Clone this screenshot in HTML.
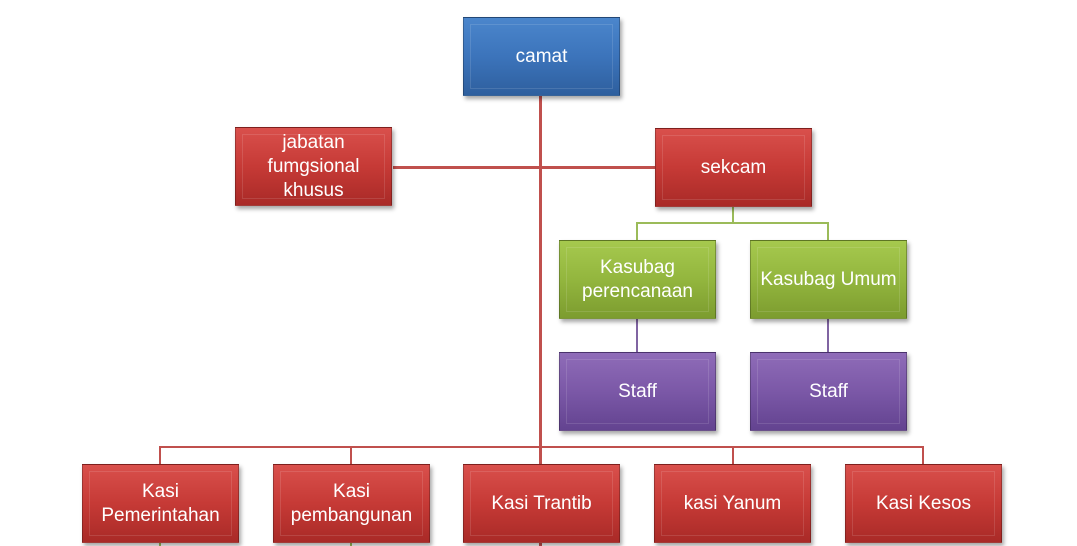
<!DOCTYPE html>
<html><head><style>
body{margin:0;width:1077px;height:546px;background:#fff;position:relative;overflow:hidden;font-family:"Liberation Sans",sans-serif}
.b{position:absolute;width:157px;height:79px;box-sizing:border-box;display:flex;align-items:center;justify-content:center;text-align:center;color:#fff;font-size:19px;line-height:24px;box-shadow:2px 3px 4px rgba(0,0,0,.35);border:1px solid rgba(0,0,0,.25)}
.b::before{content:"";position:absolute;left:6px;top:6px;right:6px;bottom:6px;border:1px solid rgba(255,255,255,.12)}
.r{background:linear-gradient(#d9504c,#c63a36 50%,#a92a27)}
.u{background:linear-gradient(#4b86cc,#3c74bb 50%,#2e5f9e)}
.g{background:linear-gradient(#a6c94e,#93b63e 50%,#7c9c2f)}
.p{background:linear-gradient(#8f6cb8,#7b58a7 50%,#634390)}
.l{position:absolute}
</style></head><body>
<div class="l" style="left:539px;top:96px;width:3px;height:450px;background:#c0504d"></div>
<div class="l" style="left:393px;top:166px;width:262px;height:3px;background:#c0504d"></div>
<div class="l" style="left:732px;top:207px;width:2px;height:16px;background:#9bbb59"></div>
<div class="l" style="left:636px;top:222px;width:193px;height:2px;background:#9bbb59"></div>
<div class="l" style="left:636px;top:222px;width:2px;height:18px;background:#9bbb59"></div>
<div class="l" style="left:827px;top:222px;width:2px;height:18px;background:#9bbb59"></div>
<div class="l" style="left:636px;top:319px;width:2px;height:33px;background:#8064a2"></div>
<div class="l" style="left:827px;top:319px;width:2px;height:33px;background:#8064a2"></div>
<div class="l" style="left:159px;top:446px;width:765px;height:2px;background:#c0504d"></div>
<div class="l" style="left:159px;top:446px;width:2px;height:18px;background:#c0504d"></div>
<div class="l" style="left:350px;top:446px;width:2px;height:18px;background:#c0504d"></div>
<div class="l" style="left:732px;top:446px;width:2px;height:18px;background:#c0504d"></div>
<div class="l" style="left:922px;top:446px;width:2px;height:18px;background:#c0504d"></div>
<div class="l" style="left:159px;top:543px;width:2px;height:3px;background:#9bbb59"></div>
<div class="l" style="left:350px;top:543px;width:2px;height:3px;background:#9bbb59"></div>
<div class="b u" style="left:463px;top:17px">camat</div>
<div class="b r" style="left:235px;top:127px">jabatan<br>fumgsional<br>khusus</div>
<div class="b r" style="left:655px;top:128px">sekcam</div>
<div class="b g" style="left:559px;top:240px">Kasubag<br>perencanaan</div>
<div class="b g" style="left:750px;top:240px">Kasubag Umum</div>
<div class="b p" style="left:559px;top:352px">Staff</div>
<div class="b p" style="left:750px;top:352px">Staff</div>
<div class="b r" style="left:82px;top:464px">Kasi<br>Pemerintahan</div>
<div class="b r" style="left:273px;top:464px">Kasi<br>pembangunan</div>
<div class="b r" style="left:463px;top:464px">Kasi Trantib</div>
<div class="b r" style="left:654px;top:464px">kasi Yanum</div>
<div class="b r" style="left:845px;top:464px">Kasi Kesos</div>
</body></html>
